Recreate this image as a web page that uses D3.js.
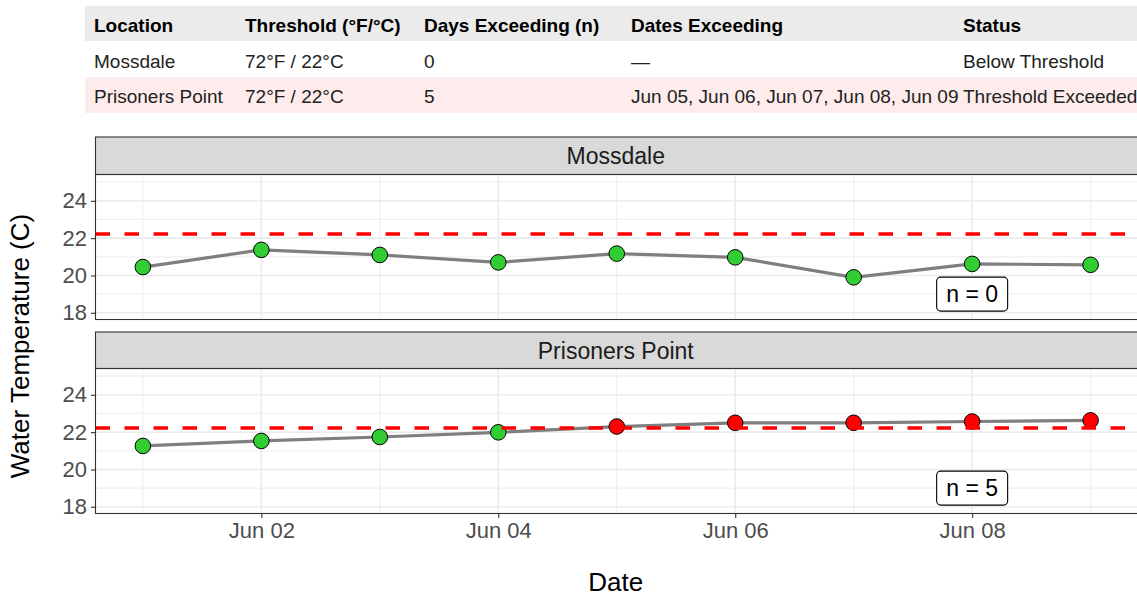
<!DOCTYPE html>
<html>
<head>
<meta charset="utf-8">
<script src="https://cdn.jsdelivr.net/npm/d3@7"></script>
<style>
  body { margin: 0; background: #fff; }
  svg { display: block; font-family: "Liberation Sans", Arial, sans-serif; }
</style>
</head>
<body>
<div id="chart"></div>
<script>
// table
const tableColumns = ['Location', 'Threshold (°F/°C)', 'Days Exceeding (n)', 'Dates Exceeding', 'Status'];
const tableRows = [
  ['Mossdale', '72°F / 22°C', '0', '—', 'Below Threshold'],
  ['Prisoners Point', '72°F / 22°C', '5', 'Jun 05, Jun 06, Jun 07, Jun 08, Jun 09', 'Threshold Exceeded']
];

// chart data
const locations = ['Mossdale', 'Prisoners Point'];
const dates = ['2024-06-01', '2024-06-02', '2024-06-03', '2024-06-04', '2024-06-05',
               '2024-06-06', '2024-06-07', '2024-06-08', '2024-06-09'];
const mossdaleTemps = [20.45, 21.37, 21.1, 20.7, 21.17, 20.97, 19.9, 20.62, 20.57];
const prisonersTemps = [21.26, 21.53, 21.74, 21.99, 22.3, 22.5, 22.5, 22.57, 22.63];
const thresholdC = 22.22;
const exceedCounts = [0, 5];
const xTickLabels = ['2024-06-02', '2024-06-04', '2024-06-06', '2024-06-08'];
const yTickValues = [18, 20, 22, 24];
const yMinorValues = [19, 21, 23, 25];

document.addEventListener('DOMContentLoaded', function () {
  const w = 1137, h = 597;
  const parse = d3.timeParse('%Y-%m-%d');
  const day = 24 * 3600 * 1000;

  let svg = d3.select('#chart').append('svg')
    .attr('width', w)
    .attr('height', h);

  // ---- summary table ----
  const colX = [94, 245, 424, 631, 963];
  const rowTop = [6, 41, 77];
  const rowH = [35, 36, 36];
  const rowBase = [31.5, 68, 103];
  const rowFill = ['#ebebeb', '#ffffff', '#fdeceb'];

  const allRows = [tableColumns].concat(tableRows);
  allRows.forEach((row, i) => {
    svg.append('rect')
      .attr('x', 85).attr('y', rowTop[i])
      .attr('width', w - 85).attr('height', rowH[i])
      .attr('fill', rowFill[i]);
    svg.append('g').selectAll('text')
      .data(row)
      .enter()
      .append('text')
      .attr('x', (d, j) => colX[j])
      .attr('y', rowBase[i])
      .attr('font-size', '19px')
      .attr('font-weight', i === 0 ? 'bold' : 'normal')
      .attr('fill', i === 0 ? '#000' : '#222')
      .text(d => d);
  });

  // ---- faceted chart ----
  const left = 95.5, right = 1138;
  const x0 = parse(dates[0]), x1 = parse(dates[dates.length - 1]);
  const xScale = d3.scaleTime()
    .domain([new Date(+x0 - 0.4 * day), new Date(+x1 + 0.4 * day)])
    .range([left, right]);

  const panels = [
    { name: locations[0], temps: mossdaleTemps, n: exceedCounts[0], stripTop: 137, top: 174.5, bottom: 319.5 },
    { name: locations[1], temps: prisonersTemps, n: exceedCounts[1], stripTop: 332, top: 368.5, bottom: 513.5 }
  ];

  panels.forEach(p => {
    const yScale = d3.scaleLinear().domain([17.64, 25.41]).range([p.bottom, p.top]);
    const g = svg.append('g');
    const pts = dates.map((d, i) => ({ date: parse(d), temp: p.temps[i] }));

    // strip
    g.append('rect')
      .attr('x', left).attr('y', p.stripTop)
      .attr('width', right - left).attr('height', p.top - p.stripTop)
      .attr('fill', '#d9d9d9').attr('stroke', '#333').attr('stroke-width', 1.1);
    g.append('text')
      .attr('x', (left + right) / 2 - 1)
      .attr('y', (p.stripTop + p.top) / 2 + 8.5)
      .attr('text-anchor', 'middle')
      .attr('font-size', '23px')
      .attr('fill', '#1a1a1a')
      .text(p.name);

    // grid
    g.selectAll('.yminor').data(yMinorValues).enter().append('line')
      .attr('x1', left).attr('x2', right)
      .attr('y1', d => yScale(d)).attr('y2', d => yScale(d))
      .attr('stroke', '#f0f0f0').attr('stroke-width', 1.2);
    g.selectAll('.xminor').data(dates.filter(d => xTickLabels.indexOf(d) < 0)).enter().append('line')
      .attr('x1', d => xScale(parse(d))).attr('x2', d => xScale(parse(d)))
      .attr('y1', p.top).attr('y2', p.bottom)
      .attr('stroke', '#f0f0f0').attr('stroke-width', 1.2);
    g.selectAll('.ymajor').data(yTickValues).enter().append('line')
      .attr('x1', left).attr('x2', right)
      .attr('y1', d => yScale(d)).attr('y2', d => yScale(d))
      .attr('stroke', '#ebebeb').attr('stroke-width', 1.6);
    g.selectAll('.xmajor').data(xTickLabels).enter().append('line')
      .attr('x1', d => xScale(parse(d))).attr('x2', d => xScale(parse(d)))
      .attr('y1', p.top).attr('y2', p.bottom)
      .attr('stroke', '#ebebeb').attr('stroke-width', 1.6);

    // temperature line
    g.append('path')
      .datum(pts)
      .attr('fill', 'none')
      .attr('stroke', '#7f7f7f')
      .attr('stroke-width', 3.2)
      .attr('d', d3.line().x(d => xScale(d.date)).y(d => yScale(d.temp)));

    g.selectAll('circle')
      .data(pts)
      .enter()
      .append('circle')
      .attr('cx', d => xScale(d.date))
      .attr('cy', d => yScale(d.temp))
      .attr('r', 7.8)
      .attr('fill', d => d.temp > thresholdC ? '#ff0000' : '#32cd32')
      .attr('stroke', '#000')
      .attr('stroke-width', 1);

    // threshold
    g.append('line')
      .attr('x1', left).attr('x2', right)
      .attr('y1', yScale(thresholdC)).attr('y2', yScale(thresholdC))
      .attr('stroke', '#ff0000')
      .attr('stroke-width', 3.6)
      .attr('stroke-dasharray', '14.5,14.5');

    // n label
    const lx = xScale(parse(dates[7])), ly = yScale(19);
    g.append('rect')
      .attr('x', lx - 35.5).attr('y', ly - 17)
      .attr('width', 71).attr('height', 34)
      .attr('rx', 4)
      .attr('fill', '#fff').attr('stroke', '#000').attr('stroke-width', 1.1);
    g.append('text')
      .attr('x', lx).attr('y', ly + 8.3)
      .attr('text-anchor', 'middle')
      .attr('font-size', '23px')
      .attr('fill', '#000')
      .text('n = ' + p.n);

    // panel border
    g.append('rect')
      .attr('x', left).attr('y', p.top)
      .attr('width', right - left).attr('height', p.bottom - p.top)
      .attr('fill', 'none').attr('stroke', '#333').attr('stroke-width', 1.1);

    // y axis
    const yAxis = d3.axisLeft(yScale).tickValues(yTickValues).tickSize(4.5).tickPadding(4);
    const ya = g.append('g')
      .attr('transform', 'translate(' + left + ',0)')
      .call(yAxis);
    ya.select('.domain').remove();
    ya.selectAll('line').attr('stroke', '#333').attr('stroke-width', 1.1);
    ya.selectAll('text')
      .attr('font-size', '22px')
      .attr('font-family', '"Liberation Sans", Arial, sans-serif')
      .attr('fill', '#4d4d4d');
  });

  // x axis, bottom panel only
  const xAxis = d3.axisBottom(xScale)
    .tickValues(xTickLabels.map(parse))
    .tickFormat(d3.timeFormat('%b %d'))
    .tickSize(4.5)
    .tickPadding(4);
  const xa = svg.append('g')
    .attr('transform', 'translate(0,' + panels[1].bottom + ')')
    .call(xAxis);
  xa.select('.domain').remove();
  xa.selectAll('line').attr('stroke', '#333').attr('stroke-width', 1.1);
  xa.selectAll('text')
    .attr('font-size', '22px')
    .attr('font-family', '"Liberation Sans", Arial, sans-serif')
    .attr('fill', '#4d4d4d');

  // axis titles
  svg.append('text')
    .attr('x', (left + right) / 2 - 1)
    .attr('y', 591)
    .attr('text-anchor', 'middle')
    .attr('font-size', '26px')
    .text('Date');

  svg.append('text')
    .attr('transform', 'translate(29,346) rotate(-90)')
    .attr('text-anchor', 'middle')
    .attr('font-size', '26px')
    .text('Water Temperature (C)');
});
</script>
</body>
</html>
